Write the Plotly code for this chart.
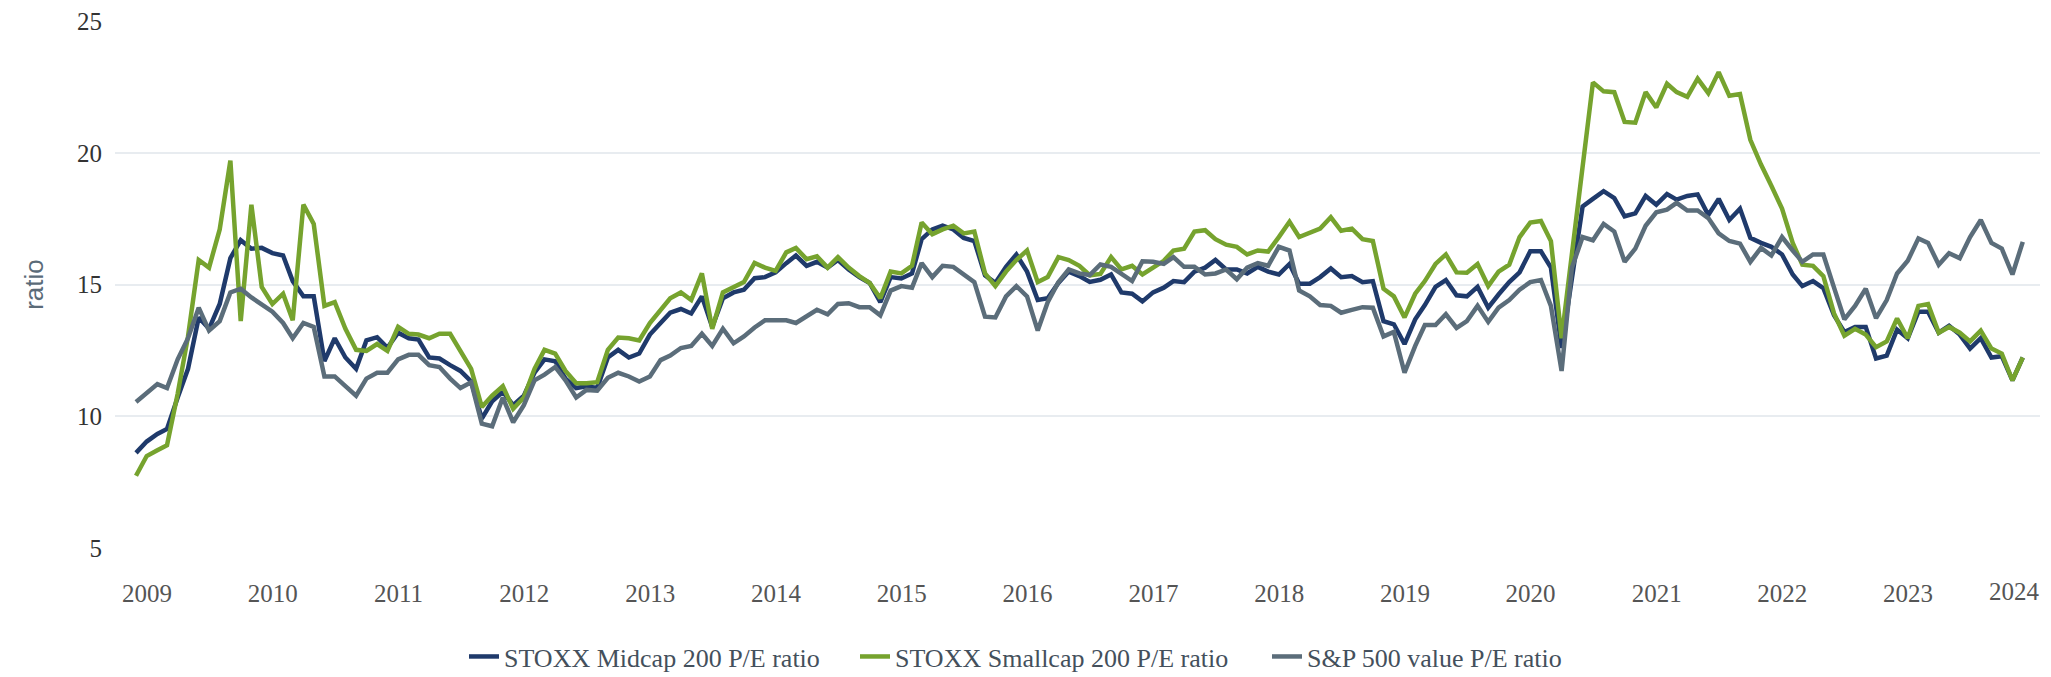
import pandas as pd
import plotly.graph_objects as go

# Monthly observations (month-end), Nov 2008 .. Nov 2023
dates = pd.date_range("2008-11-30", periods=181, freq="ME")

midcap = [
    8.61, 9.04, 9.33, 9.52, 10.71, 11.8, 13.75, 13.32, 14.26, 16.0,
    16.68, 16.36, 16.39, 16.19, 16.1, 15.13, 14.55, 14.55, 12.09, 12.96,
    12.23, 11.8, 12.88, 13.0, 12.6, 13.17, 12.96, 12.91, 12.23, 12.19,
    11.94, 11.72, 11.32, 9.91, 10.57, 10.93, 10.42, 10.78, 11.65, 12.16,
    12.09, 11.43, 11.07, 11.14, 11.07, 12.23, 12.52, 12.23, 12.38, 13.1,
    13.54, 13.93, 14.07, 13.9, 14.55, 13.39, 14.48, 14.7, 14.8, 15.24,
    15.28, 15.46, 15.81, 16.1, 15.71, 15.86, 15.64, 15.93, 15.57, 15.28,
    15.06, 14.33, 15.28, 15.23, 15.42, 16.72, 17.09, 17.23, 17.09, 16.77,
    16.65, 15.35, 15.06, 15.67, 16.14, 15.49, 14.41, 14.48, 15.06, 15.49,
    15.32, 15.1, 15.18, 15.38, 14.7, 14.65, 14.36, 14.7, 14.88, 15.13,
    15.09, 15.49, 15.64, 15.93, 15.57, 15.57, 15.42, 15.67, 15.49, 15.38,
    15.78, 15.03, 15.03, 15.28, 15.61, 15.28, 15.32, 15.09, 15.13, 13.61,
    13.49, 12.74, 13.68, 14.22, 14.91, 15.17, 14.59, 14.55, 14.91, 14.12,
    14.62, 15.09, 15.46, 16.26, 16.26, 15.64, 12.59, 15.35, 17.96, 18.25,
    18.54, 18.28, 17.59, 17.7, 18.36, 18.03, 18.43, 18.22, 18.36, 18.42,
    17.64, 18.25, 17.45, 17.88, 16.77, 16.58, 16.43, 16.14, 15.38, 14.94,
    15.13, 14.86, 13.83, 13.2, 13.39, 13.39, 12.19, 12.3, 13.29, 12.96,
    13.97, 13.97, 13.17, 13.43, 13.1, 12.57, 12.96, 12.23, 12.28, 11.36,
    12.23,
]

smallcap = [
    7.74, 8.49, 8.71, 8.9, 10.86, 13.03, 15.93, 15.64, 17.09, 19.7,
    13.61, 18.03, 14.91, 14.26, 14.65, 13.64, 18.03, 17.3, 14.19, 14.33,
    13.32, 12.52, 12.48, 12.74, 12.48, 13.39, 13.13, 13.1, 12.96, 13.13,
    13.13, 12.45, 11.8, 10.35, 10.78, 11.14, 10.28, 10.71, 11.8, 12.52,
    12.38, 11.72, 11.25, 11.25, 11.29, 12.52, 12.99, 12.96, 12.88, 13.54,
    14.07, 14.48, 14.7, 14.41, 15.42, 13.32, 14.7, 14.88, 15.09, 15.82,
    15.64, 15.52, 16.22, 16.39, 15.96, 16.07, 15.64, 16.04, 15.64, 15.32,
    15.06, 14.48, 15.49, 15.42, 15.71, 17.35, 16.91, 17.09, 17.23, 16.94,
    17.01, 15.42, 14.94, 15.49, 15.93, 16.29, 15.09, 15.28, 16.04, 15.93,
    15.71, 15.35, 15.4, 16.04, 15.57, 15.71, 15.38, 15.64, 15.9, 16.29,
    16.36, 17.01, 17.06, 16.72, 16.51, 16.43, 16.14, 16.29, 16.25, 16.8,
    17.38, 16.8, 16.94, 17.12, 17.55, 17.04, 17.12, 16.72, 16.65, 14.84,
    14.55, 13.75, 14.65, 15.13, 15.78, 16.14, 15.46, 15.45, 15.78, 14.94,
    15.49, 15.75, 16.8, 17.35, 17.41, 16.65, 12.96, 16.2, 19.4, 22.67,
    22.33, 22.3, 21.17, 21.14, 22.3, 21.72, 22.62, 22.3, 22.12, 22.81,
    22.26, 23.06, 22.16, 22.23, 20.49, 19.55, 18.75, 17.88, 16.58, 15.75,
    15.71, 15.32, 13.9, 13.06, 13.32, 13.1, 12.62, 12.84, 13.71, 12.96,
    14.19, 14.26, 13.17, 13.39, 13.17, 12.84, 13.25, 12.57, 12.38, 11.36,
    12.23,
]

sp500_value = [
    10.54, 10.86, 11.22, 11.07, 12.16, 12.96, 14.12, 13.25, 13.61, 14.7,
    14.84, 14.51, 14.26, 13.97, 13.54, 12.96, 13.54, 13.39, 11.51, 11.51,
    11.14, 10.78, 11.43, 11.65, 11.65, 12.16, 12.33, 12.33, 11.94, 11.87,
    11.43, 11.07, 11.29, 9.72, 9.62, 10.71, 9.77, 10.42, 11.36, 11.58,
    11.87, 11.36, 10.71, 11.0, 10.97, 11.46, 11.65, 11.51, 11.32, 11.51,
    12.13, 12.3, 12.59, 12.67, 13.13, 12.67, 13.32, 12.77, 13.03, 13.37,
    13.64, 13.64, 13.64, 13.54, 13.78, 14.04, 13.87, 14.26, 14.29, 14.14,
    14.14, 13.83, 14.77, 14.94, 14.88, 15.81, 15.28, 15.71, 15.67, 15.38,
    15.09, 13.78, 13.75, 14.55, 14.94, 14.55, 13.25, 14.33, 15.09, 15.57,
    15.42, 15.36, 15.76, 15.67, 15.42, 15.13, 15.88, 15.86, 15.78, 16.04,
    15.67, 15.67, 15.38, 15.42, 15.57, 15.2, 15.64, 15.81, 15.71, 16.43,
    16.29, 14.77, 14.55, 14.22, 14.19, 13.93, 14.04, 14.14, 14.12, 13.03,
    13.2, 11.65, 12.67, 13.46, 13.46, 13.87, 13.35, 13.61, 14.19, 13.58,
    14.12, 14.41, 14.8, 15.09, 15.17, 14.19, 11.72, 15.64, 16.8, 16.68,
    17.3, 17.01, 15.86, 16.36, 17.23, 17.74, 17.84, 18.1, 17.81, 17.81,
    17.52, 16.94, 16.65, 16.55, 15.86, 16.39, 16.1, 16.8, 16.29, 15.86,
    16.14, 16.14, 14.88, 13.68, 14.19, 14.84, 13.72, 14.41, 15.42, 15.9,
    16.75, 16.58, 15.75, 16.19, 16.0, 16.8, 17.45, 16.58, 16.36, 15.38,
    16.62,
]

series_names = [
    "STOXX Midcap 200 P/E ratio",
    "STOXX Smallcap 200 P/E ratio",
    "S&P 500 value P/E ratio",
]
series_colors = ["#1f3a6b", "#76a32e", "#5b6d7a"]
legend_widths = [346, 367, 280]

year_ticks = [str(y) for y in range(2009, 2024)]
last_year_label = "2024"
y_ticks = [5, 10, 15, 20, 25]

SERIF = "Liberation Serif"
SANS = "Liberation Sans"

fig = go.Figure()
for name, vals, col, lw in zip(series_names, [midcap, smallcap, sp500_value],
                               series_colors, legend_widths):
    fig.add_trace(go.Scatter(
        x=dates, y=vals, mode="lines", name=name,
        line=dict(color=col, width=4.5),
        legendwidth=lw,
    ))

fig.update_layout(
    width=2051, height=677,
    margin=dict(l=115, r=11, t=21, b=129, autoexpand=False),
    paper_bgcolor="white", plot_bgcolor="white",
    showlegend=True,
    legend=dict(
        orientation="h", x=0.1813, xanchor="left", y=-0.206, yanchor="middle",
        font=dict(family=SERIF, size=26, color="#44505c"),
        bgcolor="rgba(0,0,0,0)",
    ),
    xaxis=dict(
        type="date",
        range=["2008-09-30", "2024-01-19"],
        tickvals=[f"{y}-01-01" for y in year_ticks],
        ticktext=year_ticks,
        showgrid=False, zeroline=False, showline=False,
        ticks="", ticklabelstandoff=28,
        tickfont=dict(family=SERIF, size=25, color="#555555"),
    ),
    yaxis=dict(
        range=[5, 25],
        tickvals=y_ticks,
        showgrid=True, gridcolor="#e8ecf0", gridwidth=2,
        zeroline=False, showline=False,
        ticks="", ticklabelstandoff=12,
        tickfont=dict(family=SERIF, size=25, color="#333333"),
        title=dict(text="ratio", font=dict(family=SANS, size=26, color="#5b6b78"), standoff=25),
    ),
)

fig.add_annotation(
    x=f"{last_year_label}-01-01", xref="x", y=0, yref="paper",
    text=last_year_label, showarrow=False,
    xanchor="center", yanchor="top", xshift=-19, yshift=-28,
    font=dict(family=SERIF, size=25, color="#555555"),
)

fig.write_html("out.html")
